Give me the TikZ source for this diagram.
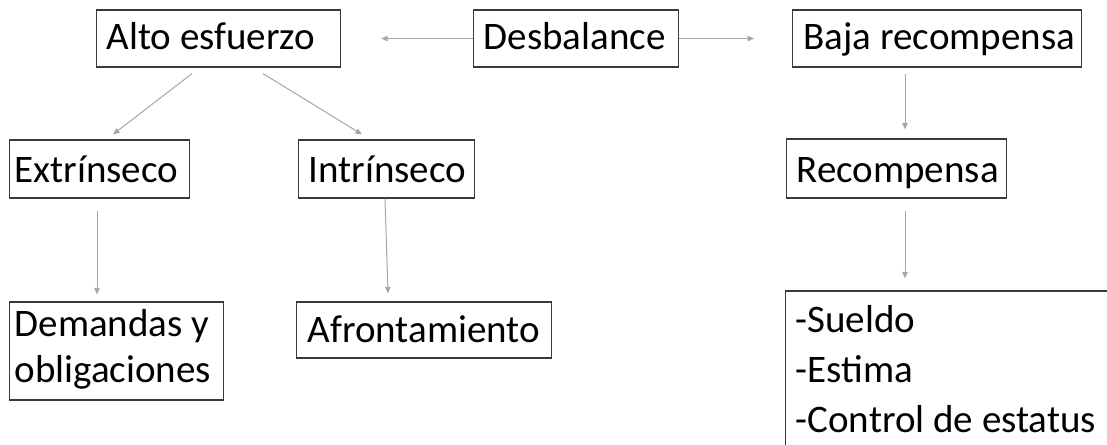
\documentclass[tikz,border=0pt]{standalone}
\usepackage{fontspec}
\setmainfont{Carlito}
\usetikzlibrary{arrows.meta}
\definecolor{boxc}{HTML}{3A3A3A}
\definecolor{arrc}{HTML}{A6A6A6}
\begin{document}
\begin{tikzpicture}[x=1pt,y=-1pt,
  box/.style={draw=boxc, line width=1.2pt, inner ysep=0pt, anchor=base west,
    align=flush left, font=\fontsize{39}{46}\selectfont},
  arr/.style={draw=arrc, line width=1pt, -{Triangle[length=6.5pt,width=5.5pt]}}]
\clip (0,0) rectangle (1107,444);
\node[box, inner xsep=10pt, text width=224pt, text height=40pt, text depth=17pt] (alto) at (96,50) {\mbox{Alto esfuerzo}};
\node[box, inner xsep=10pt, text width=185pt, text height=40pt, text depth=17pt] (des) at (473,50) {\mbox{Desbalance}};
\node[box, inner xsep=11pt, text width=267pt, text height=40pt, text depth=17pt] (baja) at (792,50) {\mbox{Baja recompensa}};
\node[box, inner xsep=5pt, text width=170pt, text height=42pt, text depth=16pt] (ext) at (9,182) {\mbox{Extrínseco}};
\node[box, inner xsep=10pt, text width=156pt, text height=42pt, text depth=16pt] (int) at (298,182) {\mbox{Intrínseco}};
\node[box, inner xsep=10pt, text width=200pt, text height=43pt, text depth=16pt] (rec) at (786,182) {\mbox{Recompensa}};
\node[box, inner xsep=5pt, text width=204pt, text height=34pt, text depth=64pt] (dem) at (9,336) {\mbox{Demandas y}\\\mbox{obligaciones}};
\node[box, inner xsep=11pt, text width=233pt, text height=40pt, text depth=16pt] (afr) at (296,342) {\mbox{Afrontamiento}};
\node[box, inner xsep=10pt, text width=400pt, text height=41pt, text depth=200pt,
  font=\fontsize{39}{50}\selectfont] (lst) at (785,332) {-Sueldo\\-Estima\\-Control de estatus};
\draw[arr, shorten >=40pt] (des.west) -- (alto.east);
\draw[arr, shorten >=38pt] (des.east) -- (baja.west);
\draw[arr] ([shift={(96,6)}]alto.south west) -- ([shift={(104,-5)}]ext.north west);
\draw[arr] ([shift={(167,6)}]alto.south west) -- ([shift={(64,-5)}]int.north west);
\draw[arr] ([shift={(113,6)}]baja.south west) -- ([shift={(119,-9)}]rec.north west);
\draw[arr] ([shift={(119,12)}]rec.south west) -- ([shift={(120,-12)}]lst.north west);
\draw[arr] ([shift={(88,12)}]ext.south west) -- ([shift={(88,-7)}]dem.north west);
\draw[arr] ([shift={(87,0)}]int.south west) -- ([shift={(92,-8)}]afr.north west);
\end{tikzpicture}
\end{document}
